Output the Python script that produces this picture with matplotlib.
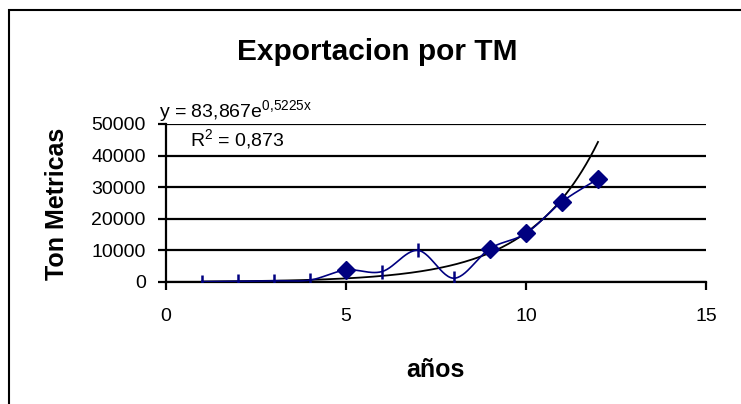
import matplotlib.pyplot as plt
import numpy as np
from matplotlib.patches import Rectangle

plt.rcParams['font.family'] = ['Liberation Sans', 'DejaVu Sans']
plt.rcParams['mathtext.fontset'] = 'custom'
plt.rcParams['mathtext.rm'] = 'Liberation Sans'

# datos
anos = [1, 2, 3, 4, 5, 6, 7, 8, 9, 10, 11, 12]
toneladas = [100, 200, 400, 600, 3800, 3300, 10000, 1200, 10600, 15400, 25400, 32600]
marcador = ['|', '|', '|', '|', 'D', '|', '|', '|', 'D', 'D', 'D', 'D']

# linea de tendencia exponencial (Excel)
coef_a = 83.867
coef_b = 0.5225

W, H = 741, 404


def suavizar(x, y, n=30):
    # curva tipo Catmull-Rom como la linea suavizada de Excel
    x = np.asarray(x, float)
    y = np.asarray(y, float)
    px = np.concatenate([[x[0]], x, [x[-1]]])
    py = np.concatenate([[y[0]], y, [y[-1]]])
    xs, ys = [], []
    t = np.linspace(0, 1, n)
    for i in range(1, len(px) - 2):
        p0, p1, p2, p3 = [np.array([px[j], py[j]]) for j in (i - 1, i, i + 1, i + 2)]
        c1 = p1 + (p2 - p0) / 6
        c2 = p2 - (p3 - p1) / 6
        pts = ((1 - t) ** 3)[:, None] * p1 + (3 * (1 - t) ** 2 * t)[:, None] * c1 \
            + (3 * (1 - t) * t ** 2)[:, None] * c2 + (t ** 3)[:, None] * p2
        xs.extend(pts[:, 0])
        ys.extend(pts[:, 1])
    return xs, ys


fig = plt.figure(figsize=(W / 100, H / 100), dpi=100)
fig.patches.append(Rectangle((9 / W, -0.1), 1.1, (H - 10) / H + 0.1,
                             transform=fig.transFigure, fill=False,
                             edgecolor='black', linewidth=1.5))
ax = fig.add_axes([166 / W, 1 - 282 / H, (706 - 166) / W, (282 - 124) / H])

sx, sy = suavizar(anos, toneladas)
ax.plot(sx, sy, color='#000080', linewidth=1.2, zorder=3)
for xi, yi, m in zip(anos, toneladas, marcador):
    if m == 'D':
        ax.plot(xi, yi, marker='D', markersize=9, color='#000080', zorder=4)
    else:
        ax.plot(xi, yi, marker='|', markersize=10, markeredgewidth=1.8,
                color='#000080', zorder=4)

xt = np.linspace(anos[0], anos[-1], 200)
ax.plot(xt, coef_a * np.exp(coef_b * xt), color='black', linewidth=1.3, zorder=2)

ax.set_xlim(0, 15)
ax.set_ylim(0, 50000)
ax.set_xticks([0, 5, 10, 15])
ax.set_yticks([0, 10000, 20000, 30000, 40000, 50000])
ax.yaxis.grid(True, color='black', linewidth=1.6)
ax.set_axisbelow(True)
for s in ['top', 'right']:
    ax.spines[s].set_visible(False)
ax.spines['left'].set_linewidth(1.6)
ax.spines['bottom'].set_linewidth(1.6)
ax.tick_params(axis='both', labelsize=14, direction='out', length=5.5, width=1.6)
ax.tick_params(axis='x', pad=13)
ax.tick_params(axis='y', pad=9)

fig.text(435 / W, 1 - 370 / H, 'años', fontsize=18, fontweight='bold',
         ha='center', va='center')
fig.text(57 / W, 1 - 204 / H, 'Ton Metricas', fontsize=18, fontweight='bold',
         rotation=90, ha='center', va='center')

fig.text(377 / W, 1 - 60 / H, 'Exportacion por TM', fontsize=21.5,
         fontweight='bold', ha='center', va='baseline')
fig.text(159 / W, 1 - 118 / H, r'y = 83,867e$^{\mathregular{0{,}5225x}}$',
         fontsize=14, ha='left', va='baseline')
fig.text(190 / W, 1 - 147 / H, r'R$^{\mathregular{2}}$ = 0,873',
         fontsize=14, ha='left', va='baseline')

fig.savefig('out.png', dpi=100)
